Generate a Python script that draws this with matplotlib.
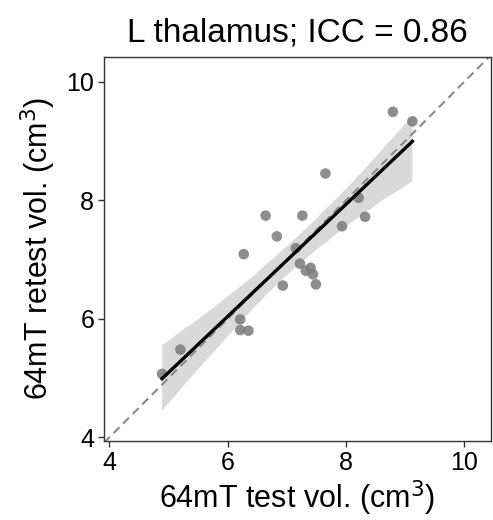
import numpy as np
import seaborn as sns
from matplotlib import pyplot as plt

plt.rcParams['font.family'] = ['Liberation Sans', 'DejaVu Sans']

# test / retest volumes (cm^3)
test_vol = [4.89, 5.20, 6.21, 6.21, 6.35, 6.27, 6.64, 6.83, 6.93, 7.15, 7.26,
            7.22, 7.32, 7.40, 7.44, 7.49, 7.65, 7.93, 8.21, 8.32, 8.79, 9.12]
retest_vol = [5.07, 5.48, 5.99, 5.81, 5.80, 7.09, 7.74, 7.39, 6.56, 7.19, 7.74,
              6.93, 6.81, 6.86, 6.75, 6.58, 8.45, 7.56, 8.04, 7.72, 9.49, 9.33]
ticks = [4, 6, 8, 10]
title = 'L thalamus; ICC = 0.86'

fig = plt.figure(figsize=(4.93, 5.2), dpi=100)
ax = fig.add_axes([0.211, 0.152, 0.784, 0.739])

lims = (3.91, 10.44)
ax.plot(lims, lims, ls=(0, (4, 2.5)), color='#8a8a8a', lw=1.5, zorder=2.5)

sns.regplot(x=test_vol, y=retest_vol, ax=ax, ci=95, truncate=True,
            scatter_kws=dict(s=58, color='#7a7a7a', alpha=0.85, edgecolor='none', zorder=3),
            line_kws=dict(color='black', lw=2.4, zorder=4))
# lighten the band
for coll in ax.collections[1:]:
    coll.set_facecolor('#d9d9d9')
    coll.set_alpha(1)
    coll.set_zorder(1)

ax.set_xlim(lims)
ax.set_ylim(3.94, 10.42)
ax.set_xticks(ticks)
ax.set_yticks(ticks)
ax.tick_params(labelsize=18, length=4, width=1, color='#333333', pad=3)
for sp in ax.spines.values():
    sp.set_color('#333333')
    sp.set_linewidth(1)

ax.set_xlabel('64mT test vol. (cm$^3$)', fontsize=22, labelpad=3)
ax.set_ylabel('64mT retest vol. (cm$^3$)', fontsize=22, labelpad=6)
ax.set_title(title, fontsize=24, pad=11)

fig.savefig('out.png', dpi=100)
